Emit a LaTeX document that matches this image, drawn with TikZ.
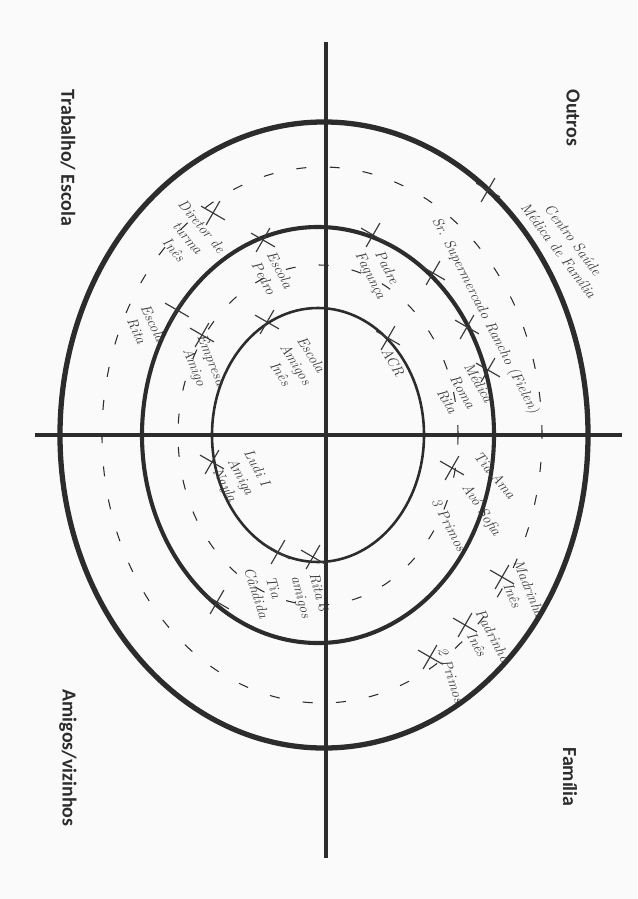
\documentclass[tikz,border=0pt]{standalone}
\usepackage{fontspec}
\setsansfont{Carlito}
\usetikzlibrary{shapes.misc}
\definecolor{ink}{HTML}{2C2C2C}
\definecolor{pen}{HTML}{3A3A3A}
\definecolor{paper}{HTML}{FAFAFA}

\begin{document}
\begin{tikzpicture}[
  x=0.03cm, y=-0.03cm,
  axis/.style={draw=ink, line width=3.2pt},
  ring/.style={draw=ink, line width=#1},
  dashring/.style={draw=ink, line width=0.9pt, dash pattern=on 0.3cm off 0.7cm},
  quad/.style={font=\sffamily\bfseries\fontsize{17}{18}\selectfont, text=ink, rotate=-90},
  hand/.style={font=\itshape\fontsize{12.5}{15.5}\selectfont, text=pen, align=center,
    inner sep=0pt},
  cross/.style={cross out, draw=pen, line width=1pt, minimum size=0.55cm,
    inner sep=0pt, rotate=15},
]

  % paper
  \fill[paper] (0,0) rectangle (637,899);
  \useasboundingbox (0,0) rectangle (637,899);

  % Axes
  \coordinate (top) at (326,42);
  \coordinate (bottom) at (326,858);
  \coordinate (left) at (35,435);
  \coordinate (right) at (622,435);
  \draw[axis] (top) -- (bottom);
  \draw[axis] (left) -- (right);

  % Rings
  \draw[ring=4.5pt] (324,435) ellipse [x radius=7.92cm, y radius=9.39cm];
  \draw[dashring] (322,435) ellipse [x radius=6.6cm, y radius=8.04cm];
  \draw[ring=3.5pt] (318,435) ellipse [x radius=5.28cm, y radius=6.24cm];
  \draw[dashring] (318,435) ellipse [x radius=4.2cm, y radius=5.1cm];
  \draw[ring=2.2pt] (318,435) ellipse [x radius=3.18cm, y radius=3.81cm];

  % Quadrant labels
  \node[quad] (outros) at (573,118) {Outros};
  \node[quad] (trabalho) at (68,158) {Trabalho/ Escola};
  \node[quad] (amigos) at (68,758) {Amigos/vizinhos};
  \node[quad] (familia) at (570,777) {Família};

  % Outros
  \node[hand, rotate=-53] (centro) at (566,245) {Centro Saúde\\Médica de Família};
  \node[hand, rotate=-63] (superm) at (485,316) {Sr. Supermercado Rancho (Fielen)};
  \node[hand, rotate=-63] (padre) at (378,272) {Padre\\Fagunça};
  \node[hand, rotate=-60] (acr) at (393,362) {ACR};
  \node[hand, rotate=-60] (medica) at (463,392) {Médica\\Roma\\Rita};

  % Trabalho / Escola
  \node[hand, rotate=-50] (diretor) at (188,238) {Diretor de\\turma\\Inês};
  \node[hand, rotate=-62] (epedro) at (272,274) {Escola\\Pedro};
  \node[hand, rotate=-65] (erita) at (145,327) {Escola\\Rita};
  \node[hand, rotate=-68] (empresa) at (202,364) {Empresa\\Amigo};
  \node[hand, rotate=-58] (eamigos) at (296,364) {Escola\\Amigos\\Inês};

  % Amigos / vizinhos
  \node[hand, rotate=-62] (ludi) at (240,477) {Ludi I\\Amiga\\Nayla};
  \node[hand, rotate=-72] (tiacand) at (265,590) {Tia\\Cândida};
  \node[hand, rotate=-75] (rita) at (309,595) {Rita 3\\amigos};

  % Familia
  \node[hand, rotate=-50] (tiaama) at (495,475) {Tia Ama};
  \node[hand, rotate=-57] (avo) at (481,510) {Avó Sofia};
  \node[hand, rotate=-62] (primos3) at (449,525) {3 Primos};
  \node[hand, rotate=-68] (madrinha) at (521,592) {Madrinha\\Inês};
  \node[hand, rotate=-62] (padrinho) at (485,640) {Padrinho\\Inês};
  \node[hand, rotate=-72] (primos2) at (451,675) {2 Primos};

  % Crosses
  \node[cross] (x1) at (488,190) {};
  \node[cross] (x2) at (373,235) {};
  \node[cross] (x3) at (433,273) {};
  \node[cross] (x4) at (467,327) {};
  \node[cross] (x5) at (488,370) {};
  \node[cross] (x6) at (388,338) {};
  \node[cross] (x7) at (213,213) {};
  \node[cross] (x8) at (263,240) {};
  \node[cross] (x9) at (177,310) {};
  \node[cross] (x10) at (202,335) {};
  \node[cross] (x11) at (267,322) {};
  \node[cross] (x12) at (212,462) {};
  \node[cross] (x13) at (278,552) {};
  \node[cross] (x14) at (313,557) {};
  \node[cross] (x15) at (217,602) {};
  \node[cross] (x16) at (452,468) {};
  \node[cross] (x17) at (502,577) {};
  \node[cross] (x18) at (465,625) {};
  \node[cross] (x19) at (430,657) {};

\end{tikzpicture}
\end{document}
